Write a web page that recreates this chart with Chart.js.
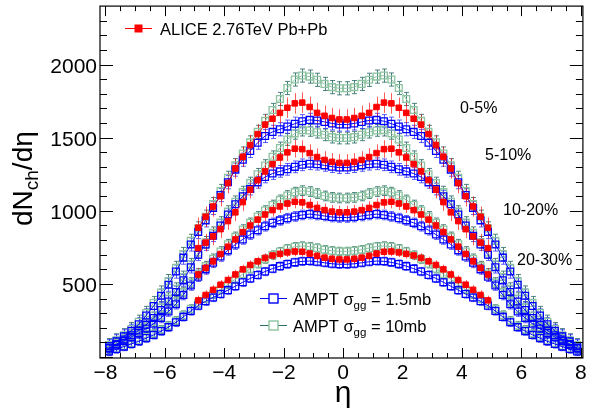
<!DOCTYPE html>
<html lang="en">
<head>
<meta charset="UTF-8">
<title>dNch/deta Pb+Pb</title>
<script src="https://cdn.jsdelivr.net/npm/chart.js@4.4.1/dist/chart.umd.min.js"></script>
<style>
  html, body { margin: 0; padding: 0; background: #fff; }
  canvas { display: block; }
</style>
</head>
<body>
<canvas id="c" width="589" height="417"></canvas>
<script>
// eta bins
var etaAmpt = [-7.875,-7.625,-7.375,-7.125,-6.875,-6.625,-6.375,-6.125,-5.875,-5.625,-5.375,-5.125,-4.875,-4.625,-4.375,-4.125,
  -3.875,-3.625,-3.375,-3.125,-2.875,-2.625,-2.375,-2.125,-1.875,-1.625,-1.375,-1.125,-0.875,-0.625,-0.375,-0.125,
  0.125,0.375,0.625,0.875,1.125,1.375,1.625,1.875,2.125,2.375,2.625,2.875,3.125,3.375,3.625,3.875,
  4.125,4.375,4.625,4.875,5.125,5.375,5.625,5.875,6.125,6.375,6.625,6.875,7.125,7.375,7.625,7.875];
var etaAlice = [-4.875,-4.625,-4.375,-4.125,-3.875,-3.625,-3.375,-3.125,-2.875,-2.625,-2.375,-2.125,-1.875,-1.625,-1.375,-1.125,-0.875,-0.625,-0.375,-0.125,
  0.125,0.375,0.625,0.875,1.125,1.375,1.625,1.875,2.125,2.375,2.625,2.875,3.125,3.375,3.625,3.875,4.125,4.375,4.625,4.875];

var centralities = ['0-5%', '5-10%', '10-20%', '20-30%'];

// ALICE 2.76 TeV Pb+Pb
var alice_0_5 = [885,960,1030,1100,1190,1290,1370,1450,1525,1590,1630,1670,1705,1735,1740,1710,1670,1650,1635,1625,
  1625,1635,1650,1670,1710,1740,1735,1705,1670,1630,1590,1525,1450,1370,1290,1190,1100,1030,960,885];
var alice_5_10 = [745,783,825,875,930,990,1060,1145,1210,1270,1320,1365,1400,1425,1422,1395,1368,1348,1335,1328,
  1328,1335,1348,1368,1395,1422,1425,1400,1365,1320,1270,1210,1145,1060,990,930,875,825,783,745];
var alice_10_20 = [565,610,655,705,755,805,855,900,940,975,1005,1030,1050,1062,1058,1040,1020,1005,995,990,
  990,995,1005,1020,1040,1058,1062,1050,1030,1005,975,940,900,855,805,755,705,655,610,565];
var alice_20_30 = [388,425,460,495,527,565,600,630,655,678,695,706,716,722,720,708,692,680,672,668,
  668,672,680,692,708,720,722,716,706,695,678,655,630,600,565,527,495,460,425,388];

// AMPT sigma_gg = 1.5 mb
var ampt15_0_5 = [75,108,142,180,225,285,350,420,495,585,680,770,855,935,1020,1108,1196,1282,1350,1410,1466,1512,1540,1558,1576,1596,1613,1622,1618,1608,1598,1590,
  1590,1598,1608,1618,1622,1613,1596,1576,1558,1540,1512,1466,1410,1350,1282,1196,1108,1020,935,855,770,680,585,495,420,350,285,225,180,142,108,75];
var ampt15_5_10 = [62,90,120,150,182,222,268,322,380,445,525,615,700,770,830,900,975,1045,1100,1149,1195,1232,1255,1270,1284,1301,1315,1322,1319,1311,1302,1296,
  1296,1302,1311,1319,1322,1315,1301,1284,1270,1255,1232,1195,1149,1100,1045,975,900,830,770,700,615,525,445,380,322,268,222,182,150,120,90,62];
var ampt15_10_20 = [60,85,110,138,165,195,228,268,312,362,425,490,550,600,645,688,730,770,805,838,868,895,918,935,950,962,972,978,972,965,958,955,
  955,958,965,972,978,972,962,950,935,918,895,868,838,805,770,730,688,645,600,550,490,425,362,312,268,228,195,165,138,110,85,60];
var ampt15_20_30 = [38,55,72,90,108,130,152,178,205,238,275,315,352,382,408,432,458,485,512,538,562,585,605,622,636,648,655,657,652,645,638,635,
  635,638,645,652,657,655,648,636,622,605,585,562,538,512,485,458,432,408,382,352,315,275,238,205,178,152,130,108,90,72,55,38];

// AMPT sigma_gg = 10 mb
var ampt10_0_5 = [82,115,150,192,242,302,370,442,520,610,705,795,880,960,1046,1136,1226,1312,1392,1468,1540,1615,1690,1765,1840,1898,1925,1918,1896,1868,1846,1838,
  1838,1846,1868,1896,1918,1925,1898,1840,1765,1690,1615,1540,1468,1392,1312,1226,1136,1046,960,880,795,705,610,520,442,370,302,242,192,150,115,82];
var ampt10_5_10 = [68,97,128,160,194,236,285,340,400,468,548,635,715,785,850,920,995,1062,1128,1190,1250,1310,1370,1430,1488,1530,1552,1550,1538,1520,1504,1498,
  1498,1504,1520,1538,1550,1552,1530,1488,1430,1370,1310,1250,1190,1128,1062,995,920,850,785,715,635,548,468,400,340,285,236,194,160,128,97,68];
var ampt10_10_20 = [66,92,118,148,176,208,243,285,330,382,445,510,572,622,672,722,772,822,872,918,962,1002,1040,1075,1105,1128,1138,1132,1118,1102,1092,1088,
  1088,1092,1102,1118,1132,1138,1128,1105,1075,1040,1002,962,918,872,822,772,722,672,622,572,510,445,382,330,285,243,208,176,148,118,92,66];
var ampt10_20_30 = [42,59,77,96,116,139,162,188,216,250,288,330,370,400,430,462,497,532,568,604,638,670,698,722,742,755,760,756,746,735,727,723,
  723,727,735,746,756,760,755,742,722,698,670,638,604,568,532,497,462,430,400,370,330,288,250,216,188,162,139,116,96,77,59,42];

// error bar half-sizes, one per centrality
var aliceErr = [70, 60, 45, 32];
var amptErr = [45, 40, 33, 28];

var xTicks = [-8, -6, -4, -2, 0, 2, 4, 6, 8];
var yTicks = [500, 1000, 1500, 2000];

var RED = '#ff0000', BLUE = '#0000ff', GREEN = '#8cc3a0', TEAL = '#2f6f6a';
var FONT = '"Liberation Sans", Arial, Helvetica, sans-serif';

function pts(etas, vals) {
  return etas.map(function (e, i) { return { x: e, y: vals[i] }; });
}

var aliceSets = [alice_0_5, alice_5_10, alice_10_20, alice_20_30];
var a15Sets = [ampt15_0_5, ampt15_5_10, ampt15_10_20, ampt15_20_30];
var a10Sets = [ampt10_0_5, ampt10_5_10, ampt10_10_20, ampt10_20_30];

var datasets = [];
aliceSets.forEach(function (v, i) {
  datasets.push({ label: 'ALICE ' + centralities[i], data: pts(etaAlice, v), err: aliceErr[i],
    errColor: 'rgba(255,0,0,0.65)', caps: false,
    showLine: true, borderColor: 'rgba(255,0,0,0.8)', borderWidth: 1, backgroundColor: RED,
    pointStyle: 'rect', pointRadius: 3.9, pointBorderWidth: 1, pointBorderColor: RED, pointBackgroundColor: RED });
});
a15Sets.forEach(function (v, i) {
  datasets.push({ label: 'AMPT 1.5mb ' + centralities[i], data: pts(etaAmpt, v), err: amptErr[i],
    errColor: 'rgba(40,40,255,0.75)', caps: true,
    showLine: true, borderColor: BLUE, borderWidth: 1, backgroundColor: 'rgba(0,0,0,0)',
    pointStyle: 'rect', pointRadius: 4.8, pointBorderWidth: 1.3, pointBorderColor: BLUE, pointBackgroundColor: 'rgba(0,0,0,0)' });
});
a10Sets.forEach(function (v, i) {
  datasets.push({ label: 'AMPT 10mb ' + centralities[i], data: pts(etaAmpt, v), err: amptErr[i],
    errColor: 'rgba(47,111,106,0.85)', caps: true,
    showLine: true, borderColor: GREEN, borderWidth: 1, backgroundColor: 'rgba(0,0,0,0)',
    pointStyle: 'rect', pointRadius: 4.8, pointBorderWidth: 1.3, pointBorderColor: GREEN, pointBackgroundColor: 'rgba(0,0,0,0)' });
});

// vertical error bars, drawn under the markers
var errorBars = {
  id: 'errorBars',
  beforeDatasetsDraw: function (chart) {
    var ctx = chart.ctx, ys = chart.scales.y, a = chart.chartArea;
    ctx.save();
    ctx.beginPath();
    ctx.rect(a.left, a.top, a.right - a.left, a.bottom - a.top);
    ctx.clip();
    for (var i = chart.data.datasets.length - 1; i >= 0; i--) {
      var ds = chart.data.datasets[i];
      var meta = chart.getDatasetMeta(i);
      ctx.strokeStyle = ds.errColor;
      ctx.lineWidth = 1;
      meta.data.forEach(function (el, j) {
        var v = ds.data[j].y;
        var y1 = ys.getPixelForValue(v + ds.err), y2 = ys.getPixelForValue(v - ds.err);
        var x = Math.round(el.x) + 0.5;
        ctx.beginPath();
        ctx.moveTo(x, y1); ctx.lineTo(x, y2);
        if (ds.caps) {
          ctx.moveTo(x - 2.5, y1); ctx.lineTo(x + 2.5, y1);
          ctx.moveTo(x - 2.5, y2); ctx.lineTo(x + 2.5, y2);
        }
        ctx.stroke();
      });
    }
    ctx.restore();
  }
};

// frame, inward ticks, labels, legend and titles
var decorations = {
  id: 'decorations',
  afterDraw: function (chart) {
    var ctx = chart.ctx, a = chart.chartArea, xs = chart.scales.x, ys = chart.scales.y;
    ctx.save();
    ctx.strokeStyle = '#000';
    ctx.fillStyle = '#000';
    ctx.lineWidth = 1.2;
    ctx.strokeRect(a.left, a.top, a.right - a.left, a.bottom - a.top);

    ctx.lineWidth = 1;
    ctx.beginPath();
    var v, p, len;
    for (v = -8; v <= 8.001; v += 0.5) {
      p = Math.round(xs.getPixelForValue(v)) + 0.5;
      len = (Math.abs(v % 2) < 0.01) ? 10 : 5;
      ctx.moveTo(p, a.bottom); ctx.lineTo(p, a.bottom - len);
      ctx.moveTo(p, a.top); ctx.lineTo(p, a.top + len);
    }
    for (v = 0; v <= 2300; v += 100) {
      p = Math.round(ys.getPixelForValue(v)) + 0.5;
      len = (v % 500 === 0) ? 13 : 7;
      ctx.moveTo(a.left, p); ctx.lineTo(a.left + len, p);
      ctx.moveTo(a.right, p); ctx.lineTo(a.right - len, p);
    }
    ctx.stroke();

    // tick labels
    ctx.font = '21px ' + FONT;
    ctx.textBaseline = 'alphabetic';
    ctx.textAlign = 'right';
    yTicks.forEach(function (t) {
      ctx.fillText(String(t), a.left - 3, ys.getPixelForValue(t) + 8);
    });
    ctx.textAlign = 'center';
    xTicks.forEach(function (t) {
      var s = t < 0 ? '\u2212' + Math.abs(t) : String(t);
      ctx.fillText(s, xs.getPixelForValue(t), a.bottom + 21);
    });

    // axis titles
    ctx.font = '30px ' + FONT;
    ctx.fillText('\u03b7', xs.getPixelForValue(0), 402);

    ctx.save();
    ctx.translate(32, 226);
    ctx.rotate(-Math.PI / 2);
    ctx.textAlign = 'left';
    ctx.font = '28px ' + FONT;
    ctx.fillText('dN', 0, 0);
    var w = ctx.measureText('dN').width;
    ctx.font = '19px ' + FONT;
    ctx.fillText('ch', w, 6);
    w += ctx.measureText('ch').width;
    ctx.font = '28px ' + FONT;
    ctx.fillText('/d\u03b7', w, 0);
    ctx.restore();

    // centrality labels
    ctx.textAlign = 'left';
    ctx.font = '16px ' + FONT;
    ctx.fillText(centralities[0], 460, 113);
    ctx.fillText(centralities[1], 485, 160);
    ctx.fillText(centralities[2], 503, 215);
    ctx.fillText(centralities[3], 517, 265);

    // legend
    function entry(y, lineCol, mkCol, side) {
      ctx.strokeStyle = lineCol;
      ctx.lineWidth = 1;
      ctx.beginPath();
      ctx.moveTo(125, y); ctx.lineTo(152, y);
      ctx.stroke();
      ctx.fillStyle = mkCol;
      ctx.fillRect(138.5 - side / 2, y - side / 2, side, side);
      ctx.fillStyle = '#000';
    }
    entry(28.5, RED, RED, 8);
    ctx.font = '16.5px ' + FONT;
    ctx.fillText('ALICE 2.76TeV Pb+Pb', 160, 35);

    function amptEntry(y, lineCol, mkCol, mb) {
      ctx.strokeStyle = lineCol;
      ctx.lineWidth = 1;
      ctx.beginPath();
      ctx.moveTo(260, y); ctx.lineTo(287, y);
      ctx.stroke();
      ctx.fillStyle = '#fff';
      ctx.fillRect(269, y - 4.5, 9, 9);
      ctx.strokeStyle = mkCol;
      ctx.lineWidth = 1.4;
      ctx.strokeRect(269, y - 4.5, 9, 9);
      ctx.fillStyle = '#000';
      var x = 293, base = y + 6;
      ctx.font = '16.5px ' + FONT;
      ctx.fillText('AMPT \u03c3', x, base);
      x += ctx.measureText('AMPT \u03c3').width;
      ctx.font = '11.5px ' + FONT;
      ctx.fillText('gg', x, base + 4);
      x += ctx.measureText('gg').width;
      ctx.font = '16.5px ' + FONT;
      ctx.fillText(' = ' + mb, x, base);
    }
    amptEntry(298.5, BLUE, BLUE, '1.5mb');
    amptEntry(325.5, TEAL, GREEN, '10mb');

    ctx.restore();
  }
};

new Chart(document.getElementById('c').getContext('2d'), {
  type: 'scatter',
  data: { datasets: datasets },
  options: {
    responsive: false,
    devicePixelRatio: 1,
    animation: false,
    layout: { padding: { left: 100, right: 4, top: 2, bottom: 59 } },
    plugins: { legend: { display: false }, tooltip: { enabled: false } },
    scales: {
      x: { type: 'linear', min: -8.18, max: 8.07, display: false },
      y: { type: 'linear', min: -6, max: 2400, display: false }
    }
  },
  plugins: [errorBars, decorations]
});
</script>
</body>
</html>
